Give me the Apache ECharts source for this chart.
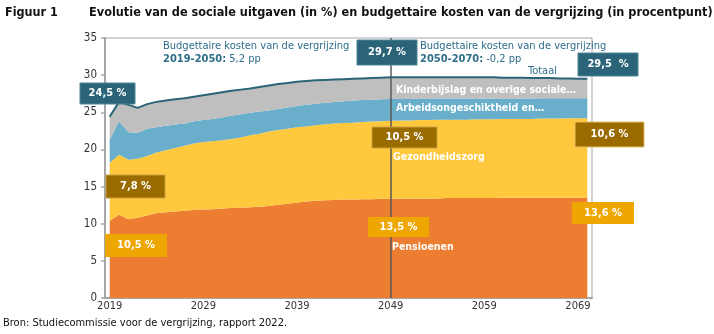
<!DOCTYPE html>
<html><head><meta charset="utf-8">
<script src="https://cdn.jsdelivr.net/npm/echarts@6/dist/echarts.min.js"></script>
<style>html,body{margin:0;padding:0;background:#fff}#c{width:714px;height:334px}</style>
</head><body><div id="c"></div>
<script>
const years = [];
for (let y = 2019; y <= 2070; y++) years.push(String(y));

const pensioenen = [10.4,11.2,10.6,10.8,11.1,11.45,11.55,11.65,11.75,11.85,11.9,11.95,12.05,12.1,12.15,12.2,12.3,12.4,12.55,12.7,12.85,13.0,13.1,13.15,13.2,13.25,13.25,13.3,13.3,13.35,13.35,13.4,13.4,13.4,13.4,13.4,13.45,13.45,13.45,13.45,13.45,13.45,13.5,13.5,13.5,13.5,13.5,13.5,13.5,13.5,13.5,13.5];
const gezondheidszorg = [7.8,8.1,8.0,7.95,8.0,8.15,8.35,8.55,8.75,8.95,9.1,9.15,9.2,9.3,9.45,9.7,9.8,10.0,10.05,10.1,10.15,10.1,10.15,10.25,10.3,10.3,10.35,10.4,10.45,10.45,10.5,10.5,10.5,10.55,10.55,10.6,10.55,10.55,10.55,10.6,10.6,10.6,10.6,10.6,10.6,10.6,10.65,10.65,10.65,10.7,10.7,10.7];
const arbeidsongeschiktheid = [3.1,4.5,3.7,3.5,3.7,3.4,3.3,3.15,3.0,3.0,2.95,3.0,3.05,3.15,3.15,3.05,3.0,2.85,2.85,2.85,2.85,2.9,2.9,2.9,2.9,2.95,3.0,2.95,2.95,2.95,2.95,2.9,2.9,2.9,2.9,2.85,2.85,2.85,2.85,2.8,2.8,2.8,2.75,2.75,2.75,2.75,2.75,2.75,2.75,2.7,2.7,2.7];
const kinderbijslag = [3.1,2.6,3.7,3.35,3.3,3.4,3.4,3.4,3.4,3.3,3.35,3.4,3.4,3.35,3.3,3.25,3.3,3.35,3.35,3.3,3.25,3.2,3.15,3.05,3.0,2.95,2.9,2.9,2.9,2.9,2.9,2.9,2.9,2.85,2.85,2.85,2.85,2.85,2.85,2.85,2.85,2.85,2.8,2.8,2.8,2.75,2.7,2.7,2.65,2.65,2.6,2.6];
const totaal = [24.4,26.4,26.0,25.6,26.1,26.4,26.6,26.75,26.9,27.1,27.3,27.5,27.7,27.9,28.05,28.2,28.4,28.6,28.8,28.95,29.1,29.2,29.3,29.35,29.4,29.45,29.5,29.55,29.6,29.65,29.7,29.7,29.7,29.7,29.7,29.7,29.7,29.7,29.7,29.7,29.7,29.7,29.65,29.65,29.65,29.6,29.6,29.6,29.55,29.55,29.5,29.5];
const yTicks = [0,5,10,15,20,25,30,35];

const FONT = 'DejaVu Sans Condensed';
const TEAL = '#2B6478', BROWN = '#9A6C00', GOLD = '#EDA700';
const TXT = '#2E6E8A';

function box(x, y, w, h, fill, label, stroke) {
  return {
    type: 'group', children: [
      { type: 'rect', z: 200, zlevel: 1, shape: { x: x, y: y, width: w, height: h }, style: { fill: fill, stroke: stroke || null, lineWidth: stroke ? 1 : 0 } },
      { type: 'text', z: 201, zlevel: 1, x: x + w / 2, y: y + h / 2, style: { text: label, fill: '#fff', font: 'bold 11px ' + FONT, textAlign: 'center', textVerticalAlign: 'middle' } }
    ]
  };
}
function txt(x, y, text, opts) {
  return { type: 'text', x: x, y: y, z: 150, zlevel: 1, style: Object.assign({ text: text, fill: TXT, font: '11px ' + FONT, textVerticalAlign: 'middle' }, opts || {}) };
}

const areaSeries = (name, data, color) => ({
  name: name, type: 'line', stack: 'tot', data: data, symbol: 'none', smooth: false,
  lineStyle: { width: 0 }, areaStyle: { color: color, opacity: 1 }, itemStyle: { color: color }, z: 2
});

const chart = echarts.init(document.getElementById('c'), null, { renderer: 'canvas' });
chart.setOption({
  animation: false,
  grid: { left: 105, right: 122, top: 38, bottom: 36, show: true, borderColor: '#A6A6A6', borderWidth: 1 },
  xAxis: {
    type: 'category', data: years, boundaryGap: true,
    axisLine: { lineStyle: { color: '#A6A6A6', width: 2 } },
    axisTick: { interval: 9, length: 4, lineStyle: { color: '#A6A6A6', width: 1.5 } },
    axisLabel: { interval: 9, color: '#333', fontFamily: FONT, fontSize: 11, margin: 3 }
  },
  yAxis: {
    type: 'value', min: 0, max: 35, interval: 5,
    splitLine: { show: false },
    axisLine: { show: true, lineStyle: { color: '#A6A6A6', width: 2 } },
    axisTick: { show: true, length: 4, lineStyle: { color: '#A6A6A6', width: 1.5 } },
    axisLabel: { color: '#333', fontFamily: FONT, fontSize: 11.5, margin: 8,
      formatter: v => yTicks.includes(v) ? String(v) : '' }
  },
  series: [
    areaSeries('Pensioenen', pensioenen, '#ED7D31'),
    areaSeries('Gezondheidszorg', gezondheidszorg, '#FFC83D'),
    areaSeries('Arbeidsongeschiktheid en werkloosheid', arbeidsongeschiktheid, '#69AFCB'),
    areaSeries('Kinderbijslag en overige sociale uitgaven', kinderbijslag, '#BFBFBF'),
    {
      name: 'Totaal', type: 'line', data: totaal, symbol: 'none', z: 5,
      lineStyle: { color: TEAL, width: 2 },
      markLine: { silent: true, symbol: 'none', label: { show: false },
        lineStyle: { color: '#595959', width: 1.5, type: 'solid' },
        data: [{ xAxis: '2049' }] }
    }
  ],
  graphic: [
    txt(5, 13, 'Figuur 1', { fill: '#111', font: 'bold 12.5px ' + FONT }),
    txt(89, 13, 'Evolutie van de sociale uitgaven (in %) en budgettaire kosten van de vergrijzing (in procentpunt)', { fill: '#111', font: 'bold 12.6px ' + FONT }),
    txt(163, 46, 'Budgettaire kosten van de vergrijzing'),
    txt(163, 59, '{b|2019-2050:} 5,2 pp', { rich: { b: { fontWeight: 'bold', fontFamily: FONT, fontSize: 11, fill: TXT, color: TXT } } }),
    txt(420, 46, 'Budgettaire kosten van de vergrijzing'),
    txt(420, 59, '{b|2050-2070:} -0,2 pp', { rich: { b: { fontWeight: 'bold', fontFamily: FONT, fontSize: 11, fill: TXT, color: TXT } } }),
    txt(557, 71, 'Totaal', { textAlign: 'right' }),
    txt(396, 90, 'Kinderbijslag en overige sociale…', { fill: '#fff', font: 'bold 10.5px ' + FONT }),
    txt(396, 108, 'Arbeidsongeschiktheid en…', { fill: '#fff', font: 'bold 10.5px ' + FONT }),
    txt(393, 157, 'Gezondheidszorg', { fill: '#fff', font: 'bold 10.5px ' + FONT }),
    txt(392, 247, 'Pensioenen', { fill: '#fff', font: 'bold 10.5px ' + FONT }),
    box(80, 83, 55, 21, TEAL, '24,5 %', '#4F8596'),
    box(357, 40, 60, 25, TEAL, '29,7 %', '#4F8596'),
    box(578, 53, 60, 23, TEAL, '29,5  %', '#4F8596'),
    box(106, 175, 59, 23, BROWN, '7,8 %', '#C9A040'),
    box(372, 127, 65, 21, BROWN, '10,5 %', '#C9A040'),
    box(575, 122, 69, 25, BROWN, '10,6 %', '#E8C060'),
    box(105, 234, 62, 23, GOLD, '10,5 %'),
    box(368, 217, 61, 20, GOLD, '13,5 %'),
    box(572, 202, 62, 22, GOLD, '13,6 %'),
    txt(3, 323, 'Bron: Studiecommissie voor de vergrijzing, rapport 2022.', { fill: '#111', font: '11px ' + FONT })
  ]
});
</script></body></html>
